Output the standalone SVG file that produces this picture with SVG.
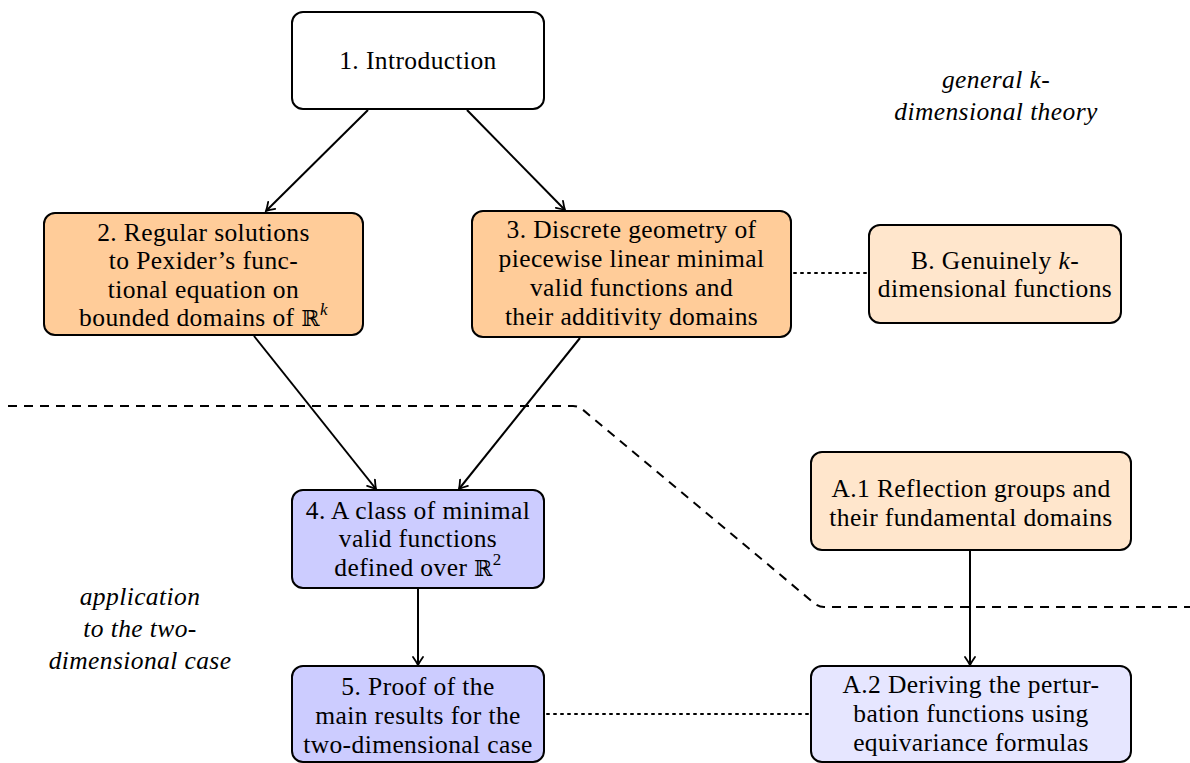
<svg xmlns="http://www.w3.org/2000/svg" width="1190" height="763" viewBox="0 0 1190 763" font-family="Liberation Serif, DejaVu Serif, serif">
<defs>
<style>
.box{stroke:#000;stroke-width:2}
.o{fill:#FFCC99}.lo{fill:#FFE6CC}.b{fill:#CCCCFF}.lb{fill:#E6E6FF}.w{fill:#fff}
text{font-size:25.5px;letter-spacing:0.4px;fill:#000;text-anchor:middle}
.it{font-style:italic}
.bb{font-family:'DejaVu Serif',serif;font-size:22px}
.sup{font-size:17px;font-style:italic}
.arr{fill:none;stroke:#000;stroke-width:2;marker-end:url(#ah)}
.dot{fill:none;stroke:#000;stroke-width:2;stroke-dasharray:2 5;stroke-linecap:round}
.dash{fill:none;stroke:#000;stroke-width:2;stroke-dasharray:9 7}
</style>
<marker id="ah" viewBox="-10 -6 12 12" markerWidth="12" markerHeight="12" refX="0" refY="0" orient="auto" markerUnits="userSpaceOnUse">
<path d="M -8 -5 Q -3 -1.5 0 0 Q -3 1.5 -8 5" fill="none" stroke="#000" stroke-width="1.8" stroke-linecap="round"/>
</marker>
</defs>

<g id="connectors">
<line class="arr" x1="368" y1="110" x2="266" y2="211"/>
<line class="arr" x1="467" y1="110" x2="565" y2="210"/>
<line class="arr" x1="254" y1="336" x2="376" y2="489"/>
<line class="arr" x1="580" y1="338" x2="459" y2="489"/>
<line class="arr" x1="418" y1="589" x2="418" y2="665"/>
<line class="arr" x1="970" y1="551" x2="970" y2="665"/>
<line class="dot" x1="794" y1="273" x2="868" y2="273"/>
<line class="dot" x1="547" y1="714" x2="810" y2="714"/>
<path class="dash" d="M 8 406 L 573 406 Q 578 406 582 409 L 814 603 Q 819 607 824 607 L 1190 607"/>
</g>

<g id="label-general">
<text class="it" x="996" y="88">general <tspan>k</tspan>-</text>
<text class="it" x="996" y="120">dimensional theory</text>
</g>
<g id="label-application">
<text class="it" x="140" y="605">application</text>
<text class="it" x="140" y="637">to the two-</text>
<text class="it" x="140" y="669">dimensional case</text>
</g>

<g id="n1">
<rect class="box w" x="292" y="12" width="252" height="97" rx="11"/>
<text x="418" y="69">1.  Introduction</text>
</g>

<g id="n2">
<rect class="box o" x="44" y="213" width="319" height="122" rx="11"/>
<text x="203.5" y="241">2.  Regular solutions</text>
<text x="203.5" y="269">to Pexider’s func-</text>
<text x="203.5" y="298">tional equation on</text>
<text x="203.5" y="326">bounded domains of <tspan class="bb">ℝ</tspan><tspan class="sup" dy="-11">k</tspan></text>
</g>

<g id="n3">
<rect class="box o" x="472" y="211" width="319" height="126" rx="11"/>
<text x="631.5" y="238">3.  Discrete geometry of</text>
<text x="631.5" y="267">piecewise linear minimal</text>
<text x="631.5" y="296">valid functions and</text>
<text x="631.5" y="325">their additivity domains</text>
</g>

<g id="nB">
<rect class="box lo" x="869" y="225" width="252" height="98" rx="11"/>
<text x="995" y="269">B. Genuinely <tspan class="it">k</tspan>-</text>
<text x="995" y="297">dimensional functions</text>
</g>

<g id="nA1">
<rect class="box lo" x="811" y="452" width="320" height="98" rx="11"/>
<text x="971" y="497">A.1 Reflection groups and</text>
<text x="971" y="526">their fundamental domains</text>
</g>

<g id="n4">
<rect class="box b" x="292" y="490" width="252" height="98" rx="11"/>
<text x="418" y="519">4.  A class of minimal</text>
<text x="418" y="547">valid functions</text>
<text x="418" y="576">defined over <tspan class="bb">ℝ</tspan><tspan font-size="17px" dy="-11">2</tspan></text>
</g>

<g id="n5">
<rect class="box b" x="292" y="666" width="252" height="96" rx="11"/>
<text x="418" y="695">5.  Proof of the</text>
<text x="418" y="724">main results for the</text>
<text x="418" y="753">two-dimensional case</text>
</g>

<g id="nA2">
<rect class="box lb" x="811" y="666" width="320" height="96" rx="11"/>
<text x="971" y="693">A.2 Deriving the pertur-</text>
<text x="971" y="722">bation functions using</text>
<text x="971" y="751">equivariance formulas</text>
</g>
</svg>
